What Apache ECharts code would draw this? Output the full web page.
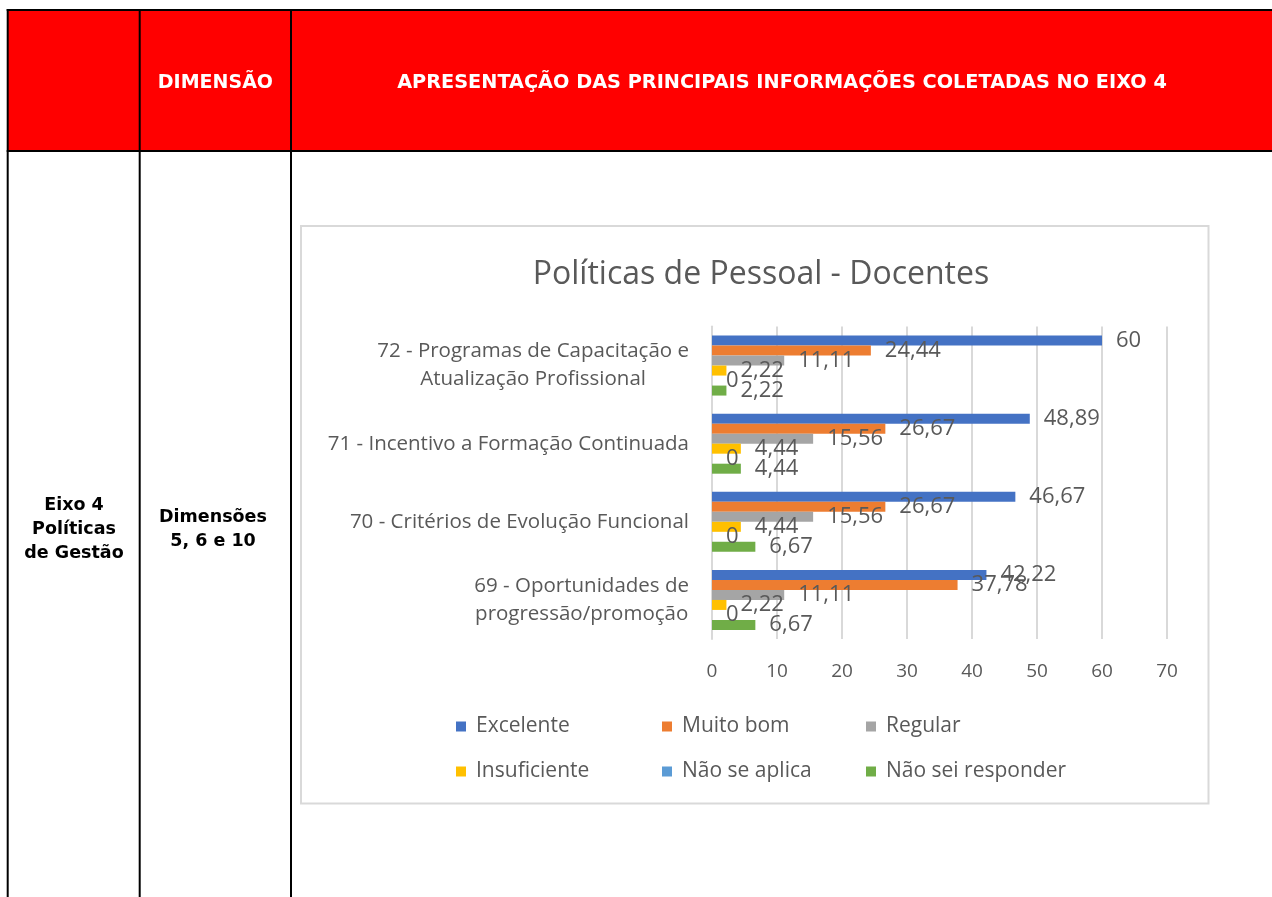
<!DOCTYPE html>
<html>
<head>
<meta charset="utf-8">
<script src="https://cdn.jsdelivr.net/npm/echarts@6/dist/echarts.min.js"></script>
<style>
html,body{margin:0;padding:0;background:#fff;}
#chart{width:1272px;height:897px;}
</style>
</head>
<body>
<div id="chart"></div>
<script>
// ---- data (categories listed bottom to top) ----
const categories = [
  '69 - Oportunidades de\nprogressão/promoção',
  '70 - Critérios de Evolução Funcional',
  '71 - Incentivo a Formação Continuada',
  '72 - Programas de Capacitação e\nAtualização Profissional'
];
const seriesNames = ['Excelente', 'Muito bom', 'Regular', 'Insuficiente', 'Não se aplica', 'Não sei responder'];
const excelente = [42.22, 46.67, 48.89, 60];
const muitoBom = [37.78, 26.67, 26.67, 24.44];
const regular = [11.11, 15.56, 15.56, 11.11];
const insuficiente = [2.22, 4.44, 4.44, 2.22];
const naoSeAplica = [0, 0, 0, 0];
const naoSeiResponder = [6.67, 6.67, 4.44, 2.22];
const xTicks = [0, 10, 20, 30, 40, 50, 60, 70];
const chartTitle = 'Políticas de Pessoal - Docentes';
const headerCols = ['', 'DIMENSÃO', 'APRESENTAÇÃO DAS PRINCIPAIS INFORMAÇÕES COLETADAS NO EIXO 4'];
const bodyCols = ['Eixo 4\nPolíticas\nde Gestão', 'Dimensões\n5, 6 e 10'];

const seriesValues = [excelente, muitoBom, regular, insuficiente, naoSeAplica, naoSeiResponder];
const colors = ['#4472c4', '#ed7d31', '#a5a5a5', '#ffc000', '#5b9bd5', '#70ad47'];

const FONT = '"Open Sans", "Noto Sans", sans-serif';
const TFONT = '"DejaVu Sans", "Liberation Sans", Arial, sans-serif';
const GREY = '#595959';

const chart = echarts.init(document.getElementById('chart'), null, {renderer: 'canvas'});

const series = seriesNames.map((name, i) => ({
  name: name,
  type: 'bar',
  barWidth: 10,
  barGap: '0%',
  data: seriesValues[i],
  itemStyle: {color: colors[i]},
  label: {
    show: true,
    position: 'right',
    distance: 14,
    color: GREY,
    fontFamily: FONT,
    fontSize: 22,
    formatter: p => String(p.value).replace('.', ',')
  },
  emphasis: {disabled: true},
  z: 2
}));

const tableLine = {stroke: '#000', lineWidth: 2};
const graphic = [
  // chart frame
  {type: 'rect', z: -5, silent: true, shape: {x: 301, y: 226, width: 907.5, height: 577.5},
   style: {fill: '#fff', stroke: '#d9d9d9', lineWidth: 2}},
  // header red band
  {type: 'rect', z: -6, silent: true, shape: {x: 7, y: 10, width: 1270, height: 141},
   style: {fill: '#ff0000'}},
  {type: 'line', z: 10, silent: true, shape: {x1: 6.7, y1: 10, x2: 1272, y2: 10}, style: tableLine},
  {type: 'line', z: 10, silent: true, shape: {x1: 6.7, y1: 151, x2: 1272, y2: 151}, style: tableLine},
  {type: 'line', z: 10, silent: true, shape: {x1: 7.7, y1: 9, x2: 7.7, y2: 897}, style: tableLine},
  {type: 'line', z: 10, silent: true, shape: {x1: 139.7, y1: 9, x2: 139.7, y2: 897}, style: tableLine},
  {type: 'line', z: 10, silent: true, shape: {x1: 291, y1: 9, x2: 291, y2: 897}, style: tableLine},
  {type: 'text', z: 10, silent: true, x: 215.4, y: 83,
   style: {text: headerCols[1], fill: '#fff', font: 'bold 19px ' + TFONT, align: 'center', verticalAlign: 'middle'}},
  {type: 'text', z: 10, silent: true, x: 782, y: 83,
   style: {text: headerCols[2], fill: '#fff', font: 'bold 19.3px ' + TFONT, align: 'center', verticalAlign: 'middle'}},
  {type: 'text', z: 10, silent: true, x: 74, y: 529,
   style: {text: bodyCols[0], fill: '#000', font: 'bold 17.5px ' + TFONT, align: 'center', verticalAlign: 'middle', lineHeight: 24}},
  {type: 'text', z: 10, silent: true, x: 213, y: 529.5,
   style: {text: bodyCols[1], fill: '#000', font: 'bold 17.5px ' + TFONT, align: 'center', verticalAlign: 'middle', lineHeight: 23.5}}
];

// legend grid: 3 columns x 2 rows (one legend component per entry)
const legendLeft = [456, 662, 866];
const legendTop = [716, 761];
const legends = seriesNames.map((name, i) => ({
  orient: 'horizontal',
  icon: 'rect',
  itemWidth: 10,
  itemHeight: 10,
  padding: 0,
  selectedMode: false,
  left: legendLeft[i % 3],
  top: legendTop[Math.floor(i / 3)],
  data: [name],
  textStyle: {color: GREY, fontFamily: FONT, fontSize: 21, padding: [0, 0, 0, 5]}
}));

const option = {
  animation: false,
  backgroundColor: '#fff',
  title: {
    text: chartTitle,
    left: 756,
    top: 254,
    textAlign: 'center',
    textStyle: {color: GREY, fontFamily: FONT, fontSize: 32, fontWeight: 'normal'}
  },
  legend: legends,
  grid: {left: 712, top: 326.5, width: 455, height: 312.5, outerBoundsMode: 'none', containLabel: false},
  xAxis: {
    type: 'value',
    min: xTicks[0],
    max: xTicks[xTicks.length - 1],
    interval: xTicks[1] - xTicks[0],
    axisLine: {show: false},
    axisTick: {show: false},
    splitLine: {show: true, lineStyle: {color: '#d9d9d9', width: 2}},
    axisLabel: {color: GREY, fontFamily: FONT, fontSize: 19, margin: 23}
  },
  yAxis: {
    type: 'category',
    data: categories,
    axisLine: {show: true, lineStyle: {color: '#d9d9d9', width: 2}},
    axisTick: {show: false},
    splitLine: {show: false},
    axisLabel: {
      margin: 23,
      color: GREY,
      fontFamily: FONT,
      fontSize: 20.5,
      lineHeight: 28,
      formatter: v => v.split('\n').map(s => '{c|' + s + '}').join('\n'),
      rich: {c: {align: 'center', color: GREY, fontFamily: FONT, fontSize: 20.5, lineHeight: 28}}
    }
  },
  graphic: graphic,
  series: series
};

chart.setOption(option);
</script>
</body>
</html>
